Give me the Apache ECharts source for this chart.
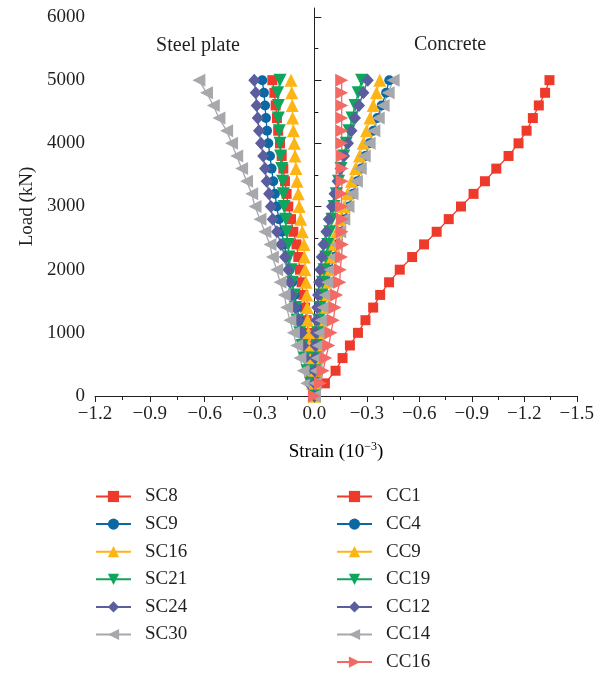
<!DOCTYPE html>
<html>
<head>
<meta charset="utf-8">
<script src="https://cdn.jsdelivr.net/npm/echarts@6/dist/echarts.min.js"></script>
<style>
html,body{margin:0;padding:0;background:#fff;}
#c{width:597px;height:675px;}
</style>
</head>
<body>
<div id="c"></div>
<script>
// Load steps (kN)
const loads = [0,200,400,600,800,1000,1200,1400,1600,1800,2000,2200,2400,2600,2800,3000,3200,3400,3600,3800,4000,4200,4400,4600,4800,5000];
// Steel plate strains (10^-3), negative = left half
const SC8  = [0,-0.005,-0.012,-0.018,-0.026,-0.033,-0.042,-0.051,-0.061,-0.070,-0.079,-0.088,-0.098,-0.115,-0.128,-0.143,-0.152,-0.161,-0.170,-0.179,-0.188,-0.198,-0.205,-0.212,-0.219,-0.230];
const SC9  = [0,-0.014,-0.027,-0.040,-0.053,-0.066,-0.080,-0.095,-0.108,-0.122,-0.135,-0.150,-0.165,-0.179,-0.194,-0.206,-0.216,-0.225,-0.234,-0.243,-0.252,-0.259,-0.265,-0.270,-0.276,-0.285];
const SC16 = [0,-0.010,-0.019,-0.025,-0.030,-0.033,-0.037,-0.039,-0.042,-0.046,-0.051,-0.055,-0.057,-0.066,-0.075,-0.083,-0.088,-0.095,-0.101,-0.106,-0.110,-0.115,-0.119,-0.121,-0.124,-0.128];
const SC21 = [0,-0.020,-0.040,-0.055,-0.068,-0.080,-0.095,-0.104,-0.110,-0.121,-0.128,-0.139,-0.143,-0.152,-0.157,-0.166,-0.170,-0.174,-0.179,-0.185,-0.188,-0.192,-0.197,-0.197,-0.201,-0.188];
const SC24 = [0,-0.030,-0.037,-0.051,-0.061,-0.070,-0.088,-0.106,-0.124,-0.134,-0.143,-0.161,-0.183,-0.205,-0.228,-0.238,-0.248,-0.261,-0.270,-0.280,-0.292,-0.303,-0.310,-0.316,-0.321,-0.329];
const SC30 = [0,-0.042,-0.061,-0.079,-0.097,-0.115,-0.134,-0.152,-0.165,-0.188,-0.206,-0.230,-0.243,-0.271,-0.298,-0.325,-0.343,-0.371,-0.398,-0.425,-0.453,-0.480,-0.522,-0.553,-0.590,-0.632];
// Concrete strains (10^-3), plotted to the right
const CC1  = [0,0.060,0.121,0.161,0.203,0.249,0.292,0.336,0.376,0.427,0.488,0.559,0.627,0.699,0.768,0.838,0.910,0.975,1.040,1.110,1.167,1.213,1.249,1.283,1.319,1.344];
const CC4  = [0,0.005,0.010,0.017,0.025,0.033,0.043,0.054,0.066,0.080,0.095,0.113,0.132,0.152,0.175,0.198,0.222,0.245,0.268,0.290,0.315,0.338,0.360,0.385,0.410,0.428];
const CC9  = [0,0.003,0.007,0.012,0.018,0.025,0.033,0.042,0.052,0.064,0.076,0.092,0.108,0.128,0.148,0.170,0.190,0.212,0.235,0.258,0.279,0.298,0.318,0.336,0.355,0.374];
const CC19 = [0,0.002,0.005,0.009,0.014,0.019,0.025,0.031,0.038,0.046,0.055,0.065,0.076,0.088,0.100,0.112,0.125,0.138,0.152,0.168,0.182,0.198,0.215,0.232,0.250,0.270];
const CC12 = [0,0.001,0.002,0.004,0.006,0.009,0.012,0.016,0.021,0.027,0.034,0.042,0.052,0.068,0.082,0.100,0.115,0.132,0.150,0.170,0.192,0.212,0.232,0.255,0.280,0.305];
const CC14 = [0,0.005,0.010,0.016,0.023,0.031,0.040,0.050,0.062,0.076,0.090,0.108,0.125,0.145,0.168,0.192,0.215,0.240,0.262,0.285,0.313,0.340,0.365,0.393,0.422,0.450];
const CC16 = [0,0.035,0.050,0.065,0.082,0.095,0.108,0.118,0.127,0.145,0.148,0.155,0.160,0.158,0.160,0.155,0.155,0.158,0.158,0.158,0.156,0.156,0.156,0.156,0.156,0.156];

const yTicks = [0,1000,2000,3000,4000,5000,6000];
const steelNames = ['SC8','SC9','SC16','SC21','SC24','SC30'];
const concNames = ['CC1','CC4','CC9','CC19','CC12','CC14','CC16'];

const FONT = "'Liberation Serif', 'DejaVu Serif', serif";
const INK = '#231f20';
const C = {red:'#ee3a2a', blue:'#0b68a2', yellow:'#fdb515', green:'#0fa55c', purple:'#5a5e9f', gray:'#a7a8ac', salmon:'#f26a63'};

function mk(name, vals, color, symbol, size, rot, gi) {
  return {
    name: name, type: 'line', xAxisIndex: gi, yAxisIndex: gi,
    data: vals.map((v, i) => [v, loads[i]]),
    symbol: symbol, symbolSize: size, symbolRotate: rot || 0,
    showSymbol: true, clip: false,
    lineStyle: {color: color, width: 1.3},
    itemStyle: {color: color},
    emphasis: {disabled: true}
  };
}

const series = [
  mk('SC8', SC8, C.red, 'rect', 10, 0, 0),
  mk('SC9', SC9, C.blue, 'circle', 10, 0, 0),
  mk('SC16', SC16, C.yellow, 'triangle', 13, 0, 0),
  mk('SC21', SC21, C.green, 'triangle', 13, 180, 0),
  mk('SC24', SC24, C.purple, 'diamond', [12,13], 0, 0),
  mk('SC30', SC30, C.gray, 'triangle', 13, 90, 0),
  mk('CC1', CC1, C.red, 'rect', 10, 0, 1),
  mk('CC4', CC4, C.blue, 'circle', 10, 0, 1),
  mk('CC9', CC9, C.yellow, 'triangle', 13, 0, 1),
  mk('CC19', CC19, C.green, 'triangle', 13, 180, 1),
  mk('CC12', CC12, C.purple, 'diamond', [12,13], 0, 1),
  mk('CC14', CC14, C.gray, 'triangle', 13, 90, 1),
  mk('CC16', CC16, C.salmon, 'triangle', 13, -90, 1)
];

const chart = echarts.init(document.getElementById('c'), null, {renderer: 'canvas'});
const zeroX = 314.4, leftX = 95, rightX = 577, yTop = 17, yZero = 396, lineTop = 8;
const rightMax = yTicks[yTicks.length-1] * (yZero - lineTop) / (yZero - yTop);

const xLabel = (v) => {
  if (Math.abs(v) < 1e-9) return '0.0';
  return '\u2212' + Math.abs(v).toFixed(1);
};

const legendCommon = {
  orient: 'vertical', top: 487, height: 260, padding: 0, itemWidth: 35, itemHeight: 14, itemGap: 8.6,
  textStyle: {fontFamily: FONT, fontSize: 19, color: INK, padding: [0,0,0,9]},
  selectedMode: false
};

chart.setOption({
  backgroundColor: '#fff',
  animation: false,
  textStyle: {fontFamily: FONT},
  grid: [
    {left: leftX, width: zeroX - leftX, top: yTop, height: yZero - yTop},
    {left: zeroX, width: rightX - zeroX, top: lineTop, height: yZero - lineTop}
  ],
  xAxis: [
    {type: 'value', gridIndex: 0, min: -1.2, max: 0, interval: 0.3,
     axisLine: {lineStyle: {color: INK, width: 1}},
     axisTick: {show: true, length: 6, lineStyle: {color: INK}},
     minorTick: {show: true, splitNumber: 2, length: 4, lineStyle: {color: INK}},
     splitLine: {show: false},
     axisLabel: {fontFamily: FONT, fontSize: 19, color: INK, margin: 9, formatter: xLabel}},
    {type: 'value', gridIndex: 1, min: 0, max: 1.5, interval: 0.3,
     axisLine: {lineStyle: {color: INK, width: 1}},
     axisTick: {show: true, length: 6, lineStyle: {color: INK}},
     minorTick: {show: true, splitNumber: 2, length: 4, lineStyle: {color: INK}},
     splitLine: {show: false},
     axisLabel: {fontFamily: FONT, fontSize: 19, color: INK, margin: 9,
       formatter: (v) => Math.abs(v) < 1e-9 ? '' : xLabel(v)}}
  ],
  yAxis: [
    {type: 'value', gridIndex: 0, min: 0, max: 6000, interval: 1000,
     name: 'Load (kN)', nameLocation: 'middle', nameGap: 58,
     nameTextStyle: {fontFamily: FONT, fontSize: 19, color: INK},
     axisLine: {show: true, lineStyle: {color: INK, width: 1}},
     axisTick: {show: true, inside: true, length: 7, lineStyle: {color: INK}},
     minorTick: {show: true, splitNumber: 2, length: 4, lineStyle: {color: INK}},
     splitLine: {show: false},
     axisLabel: {fontFamily: FONT, fontSize: 19, color: INK, margin: 10, formatter: (v) => String(v)}},
    {type: 'value', gridIndex: 1, min: 0, max: rightMax,
     axisLine: {show: true, onZero: false, lineStyle: {color: INK, width: 1}},
     axisTick: {show: false}, axisLabel: {show: false}, splitLine: {show: false}}
  ],
  legend: [
    Object.assign({left: 95, data: steelNames}, legendCommon),
    Object.assign({left: 336, data: concNames}, legendCommon)
  ],
  graphic: [
    {type: 'text', x: 198, y: 46, style: {text: 'Steel plate', font: '20px ' + FONT, fill: INK, textAlign: 'center', textVerticalAlign: 'middle'}},
    {type: 'text', x: 450, y: 45, style: {text: 'Concrete', font: '20px ' + FONT, fill: INK, textAlign: 'center', textVerticalAlign: 'middle'}},
    {type: 'text', x: 336, y: 452,
     style: {text: '{n|Strain (10}{s|\u22123}{n|)}', textAlign: 'center', textVerticalAlign: 'middle',
       rich: {n: {fontFamily: FONT, fontSize: 19, color: INK, lineHeight: 22},
              s: {fontFamily: FONT, fontSize: 12, color: INK, lineHeight: 22, verticalAlign: 'top', padding: [0,0,10,0]}}}}
  ],
  series: series
});
</script>
</body>
</html>
